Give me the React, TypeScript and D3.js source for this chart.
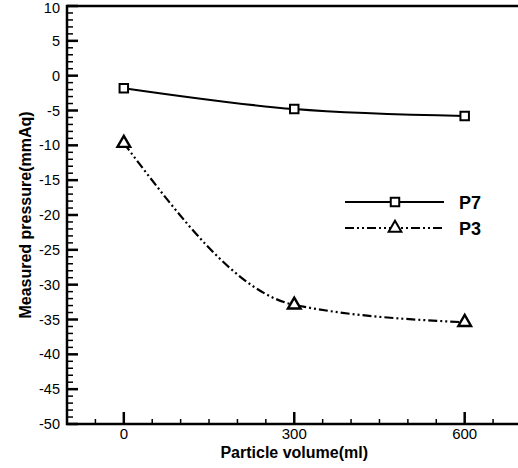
import React, { useEffect, useRef } from 'react';
import * as d3 from 'd3';

const volumes = [0, 300, 600];
const p7 = [-1.8, -4.8, -5.8];
const p3 = [-9.7, -32.9, -35.4];
const xMajor = [0, 300, 600];
const yMajor = [-50, -45, -40, -35, -30, -25, -20, -15, -10, -5, 0, 5, 10];

export default function App() {
  const ref = useRef<SVGSVGElement>(null);

  useEffect(() => {
    const height = 468;
    const margin = { left: 67, top: 6, bottom: 44 };
    const svg = d3.select(ref.current);
    svg.selectAll('*').remove();

    const x = d3.scaleLinear().domain([-100, 700]).range([margin.left, 521.5]);
    const y = d3.scaleLinear().domain([-50, 10]).range([height - margin.bottom, margin.top]);
    const font = 'Liberation Sans, Arial, sans-serif';

    // frame
    svg.append('rect')
      .attr('x', x(-100)).attr('y', y(10))
      .attr('width', x(700) - x(-100)).attr('height', y(-50) - y(10))
      .attr('fill', 'none').attr('stroke', '#000').attr('stroke-width', 2.5);

    // y ticks
    const yMinor = d3.range(-50, 10.01, 1);
    svg.append('g').selectAll('line').data(yMinor).join('line')
      .attr('x1', x(-100)).attr('x2', d => x(-100) + (d % 5 === 0 ? 11 : 6))
      .attr('y1', d => y(d)).attr('y2', d => y(d))
      .attr('stroke', '#000').attr('stroke-width', d => d % 5 === 0 ? 2.5 : 1.5);
    // top label pushed down a little so it stays inside the picture
    svg.append('g').selectAll('text').data(yMajor).join('text')
      .attr('x', x(-100) - 7).attr('y', d => Math.max(y(d) + 5, 13))
      .attr('text-anchor', 'end').attr('font-family', font).attr('font-size', 14.5)
      .text(d => d);

    // x ticks
    const xMinor = d3.range(-100, 700.01, 50);
    svg.append('g').selectAll('line').data(xMinor).join('line')
      .attr('x1', d => x(d)).attr('x2', d => x(d))
      .attr('y1', y(-50)).attr('y2', d => y(-50) - (d % 300 === 0 ? 12 : 5))
      .attr('stroke', '#000').attr('stroke-width', d => d % 300 === 0 ? 2.5 : 1.5);
    svg.append('g').selectAll('text').data(xMajor).join('text')
      .attr('x', d => x(d)).attr('y', y(-50) + 15)
      .attr('text-anchor', 'middle').attr('font-family', font).attr('font-size', 15)
      .text(d => d);

    // axis titles
    svg.append('text')
      .attr('x', (margin.left + 521.5) / 2).attr('y', 457.5)
      .attr('text-anchor', 'middle').attr('font-family', font).attr('font-size', 16)
      .attr('font-weight', 'bold').text('Particle volume(ml)');
    svg.append('text')
      .attr('transform', `translate(31,${(y(10) + y(-50)) / 2}) rotate(-90)`)
      .attr('text-anchor', 'middle').attr('font-family', font).attr('font-size', 16)
      .attr('font-weight', 'bold').text('Measured pressure(mmAq)');

    const line = d3.line<number>()
      .x((_, i) => x(volumes[i])).y(d => y(d))
      .curve(d3.curveMonotoneX);

    const dashP3 = '9,3,2,3,2,3';

    svg.append('path').datum(p7).attr('d', line)
      .attr('fill', 'none').attr('stroke', '#000').attr('stroke-width', 2);
    svg.append('path').datum(p3).attr('d', line)
      .attr('fill', 'none').attr('stroke', '#000').attr('stroke-width', 2.2)
      .attr('stroke-dasharray', dashP3);

    const square = d3.symbol().type(d3.symbolSquare).size(72);
    const triangle = d3.symbol().type(d3.symbolTriangle).size(70);

    svg.append('g').selectAll('path').data(p7).join('path')
      .attr('transform', (d, i) => `translate(${x(volumes[i])},${y(d)})`)
      .attr('d', square()).attr('fill', '#fff').attr('stroke', '#000').attr('stroke-width', 2);
    svg.append('g').selectAll('path').data(p3).join('path')
      .attr('transform', (d, i) => `translate(${x(volumes[i])},${y(d)})`)
      .attr('d', triangle()).attr('fill', '#fff').attr('stroke', '#000').attr('stroke-width', 2.4);

    // legend
    const legend = [
      { name: 'P7', dash: null, sym: square, ly: 202 },
      { name: 'P3', dash: dashP3, sym: triangle, ly: 228 },
    ];
    const lg = svg.append('g');
    legend.forEach(l => {
      lg.append('line').attr('x1', 345).attr('x2', 444).attr('y1', l.ly).attr('y2', l.ly)
        .attr('stroke', '#000').attr('stroke-width', 2)
        .attr('stroke-dasharray', l.dash);
      lg.append('path').attr('transform', `translate(395,${l.ly})`).attr('d', l.sym())
        .attr('fill', '#fff').attr('stroke', '#000').attr('stroke-width', 2);
      lg.append('text').attr('x', 459).attr('y', l.ly + 6.5)
        .attr('font-family', font).attr('font-size', 18).attr('font-weight', 'bold')
        .text(l.name);
    });
  }, []);

  return (
    <svg ref={ref} width={518} height={468}
      style={{ position: 'fixed', left: 0, top: 0, background: '#fff' }} />
  );
}
